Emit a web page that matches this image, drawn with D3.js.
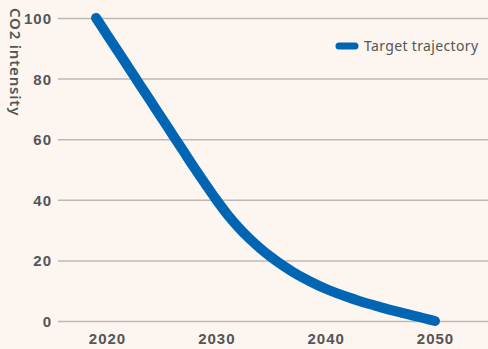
<!DOCTYPE html>
<html>
<head>
<meta charset="utf-8">
<script src="https://cdn.jsdelivr.net/npm/d3@7"></script>
<style>
  html, body { margin: 0; padding: 0; background: #fcf5f0; }
  svg { display: block; font-family: "Noto Sans", sans-serif; }
  .tick text { fill: #555; font-size: 15px; font-weight: 600; letter-spacing: 1px; }
</style>
</head>
<body>
<div id="chart"></div>
<script>
const years = d3.range(2019, 2051);
const intensity = [
  100, 94.5, 89, 83.5, 78, 72.5, 67, 61.5, 56, 50.5, 45.2, 40,
  35.2, 31, 27.3, 24, 21.1, 18.5, 16.2, 14.15, 12.3, 10.65, 9.2, 7.9,
  6.7, 5.6, 4.6, 3.6, 2.7, 1.8, 0.9, 0
];
const yTicks = [0, 20, 40, 60, 80, 100];
const xTicks = [2020, 2030, 2040, 2050];
const seriesName = "Target trajectory";
const yTitle = "CO2 intensity";

const width = 488, height = 349;
const gridLeft = 58, gridRight = width;

const x = d3.scaleLinear().domain([2020, 2050]).range([107, 435]);
const y = d3.scaleLinear().domain([0, 100]).range([321, 18]);

const svg = d3.select("#chart").append("svg")
  .attr("width", width).attr("height", height);

// grid + y labels
const gY = svg.append("g")
  .attr("transform", `translate(${gridLeft},0)`)
  .call(d3.axisLeft(y).tickValues(yTicks).tickSize(0).tickPadding(6))
  .call(g => g.select(".domain").remove());
gY.selectAll(".tick line")
  .attr("x2", gridRight - gridLeft)
  .attr("stroke", "#bdb9b6")
  .attr("stroke-width", 1.5);
gY.selectAll(".tick text").attr("dy", "0.36em");

// x labels
svg.append("g")
  .attr("transform", `translate(0,${y(0)})`)
  .call(d3.axisBottom(x).tickValues(xTicks).tickFormat(d3.format("d")).tickSize(0).tickPadding(12))
  .call(g => g.select(".domain").remove());

// y title
svg.append("text")
  .attr("transform", "translate(10,8) rotate(90)")
  .attr("text-anchor", "start")
  .attr("fill", "#555")
  .style("font-size", "15px")
  .style("font-weight", 600)
  .style("letter-spacing", "0.8px")
  .text(yTitle);

// line
const line = d3.line()
  .x((d, i) => x(years[i]))
  .y(d => y(d))
  .curve(d3.curveMonotoneX);

svg.append("path")
  .datum(intensity)
  .attr("d", line)
  .attr("fill", "none")
  .attr("stroke", "#0066b3")
  .attr("stroke-width", 10)
  .attr("stroke-linecap", "round")
  .attr("stroke-linejoin", "round");

// legend
const lg = svg.append("g").attr("transform", "translate(336,46)");
lg.append("line")
  .attr("x1", 3).attr("x2", 19)
  .attr("stroke", "#0066b3")
  .attr("stroke-width", 7)
  .attr("stroke-linecap", "round");
lg.append("text")
  .attr("x", 28).attr("y", 5)
  .attr("fill", "#555")
  .style("font-size", "14px")
  .style("letter-spacing", "0.35px")
  .text(seriesName);
</script>
</body>
</html>
